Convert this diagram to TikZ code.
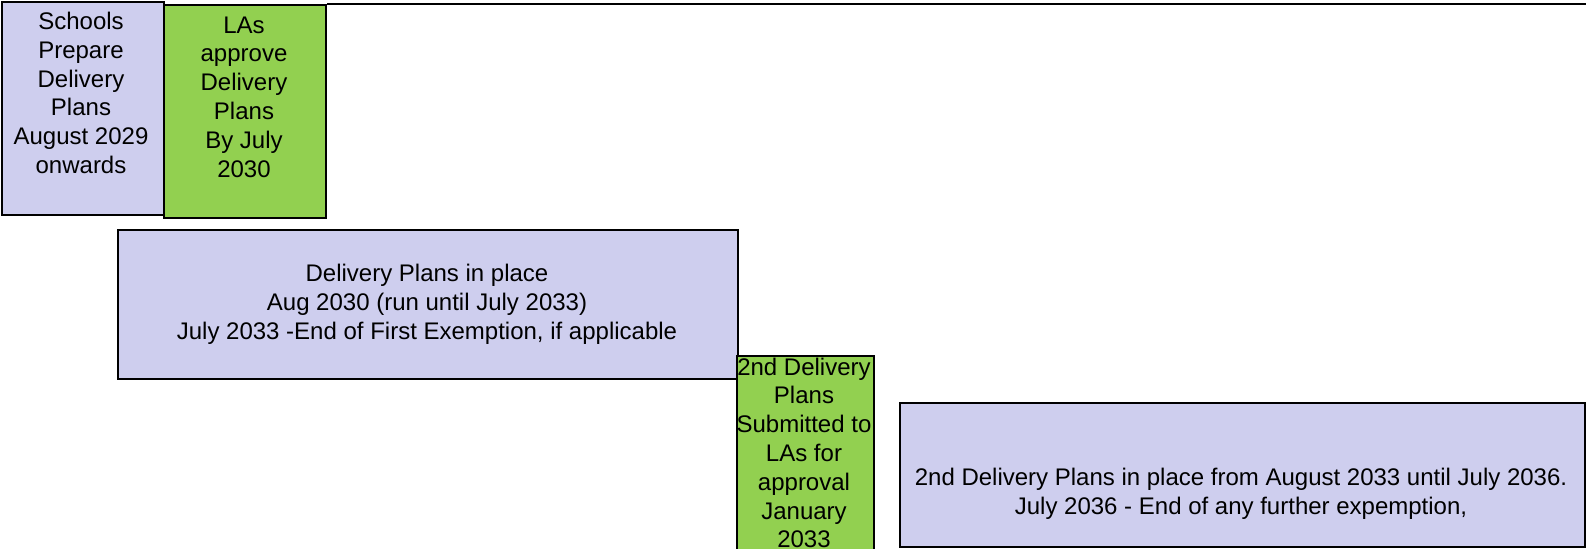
\documentclass[tikz,border=0pt]{standalone}
\usepackage{fontspec}
\setmainfont{Liberation Sans}
\usetikzlibrary{positioning,calc}
\definecolor{planlavender}{RGB}{206,206,238}
\definecolor{plangreen}{RGB}{146,208,80}
\tikzset{
	planbox/.style={draw=black,line width=1pt,inner sep=0pt,anchor=north west},
	plantext/.style={align=center,inner sep=0pt,font=\fontsize{12}{14.4}\selectfont},
}
\begin{document}
\begin{tikzpicture}[x=0.5pt,y=-0.5pt]
		\clip (0,0) rectangle (1586,548);
		\coordinate(A) at (1,1);
		\coordinate(B) at (163,4);
		\coordinate(C) at (117,229);
		\coordinate(D) at (736,355);
		\coordinate(E) at (899,402);
		\coordinate(R) at (1586,4);
		
		% boxes
		\node[planbox,fill=planlavender,minimum width=81pt,minimum height=106.5pt] (prepare) at (A) {};
		\node[planbox,fill=plangreen,minimum width=81pt,minimum height=106.5pt] (approve) at (B) {};
		\node[planbox,fill=planlavender,minimum width=310pt,minimum height=74.5pt] (inplace) at (C) {};
		\node[planbox,fill=plangreen,minimum width=68.5pt,minimum height=110pt] (submit) at (D) {};
		\node[planbox,fill=planlavender,minimum width=342.5pt,minimum height=72pt] (secondplace) at (E) {};
		\draw[line width=1pt] (approve.north east) -- (approve.north east -| R);
		
		% texts
		\node[plantext] (prepareText) at (81,93) {Schools\\Prepare\\Delivery\\Plans\\August 2029\\onwards};
		\node[plantext] (approveText) at (244,97) {LAs\\approve\\Delivery\\Plans\\By July\\2030};
		\node[plantext] (inplaceText) at (427,304) {Delivery Plans in place\\Aug 2030 (run until July 2033)\\July 2033 -End of First Exemption, if applicable};
		\node[plantext] (submitText) at (804,453) {2nd Delivery\\Plans\\Submitted to\\LAs for\\approval\\January\\2033};
		\node[plantext] (secondplaceText) at (1241,494) {2nd Delivery Plans in place from August 2033 until July 2036.\\July 2036 - End of any further expemption,};
	\end{tikzpicture}
\end{document}
